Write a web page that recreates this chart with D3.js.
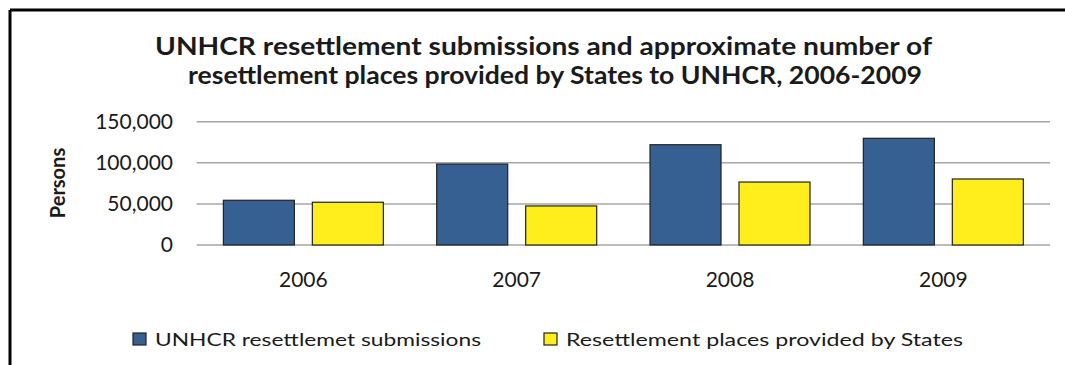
<!DOCTYPE html>
<html>
<head>
<meta charset="utf-8">
<script src="https://cdn.jsdelivr.net/npm/d3@7"></script>
<style>
  html, body { margin: 0; padding: 0; background: #ffffff; }
  svg { display: block; }
  text { font-family: Lato, "Open Sans", sans-serif; fill: #1a1a1a; }
</style>
</head>
<body>
<svg id="chart" width="1065" height="365"></svg>
<script>
// ---- data ----
const categories = ["2006", "2007", "2008", "2009"];
const seriesNames = ["UNHCR resettlemet submissions", "Resettlement places provided by States"];
const submissions = [54400, 98500, 122000, 129800];
const places = [52000, 47500, 76600, 80300];
const yTicks = [0, 50000, 100000, 150000];
const titleLines = [
  "UNHCR resettlement submissions and approximate number of",
  "resettlement places provided by States to UNHCR, 2006-2009"
];
const yAxisTitle = "Persons";
const colors = ["#376092", "#FFED1C"];

const rows = categories.map((c, i) => ({ cat: c, values: [submissions[i], places[i]] }));

const svg = d3.select("#chart");

// frame
svg.append("line").attr("x1", 10).attr("x2", 1065).attr("y1", 10).attr("y2", 10)
  .attr("stroke", "#000").attr("stroke-width", 3);
svg.append("line").attr("x1", 10).attr("x2", 10).attr("y1", 10).attr("y2", 365)
  .attr("stroke", "#000").attr("stroke-width", 3);

// title
const titleX = [155, 188];
const titleW = [777, 734];
const titleY = [55, 84];
titleLines.forEach((t, i) => {
  svg.append("text").attr("x", titleX[i]).attr("y", titleY[i])
    .style("font-weight", "bold").style("font-size", "24px")
    .attr("textLength", titleW[i]).attr("lengthAdjust", "spacingAndGlyphs").text(t);
});

// scales
const x0 = d3.scaleBand().domain(categories).range([196.7, 1050]).paddingInner(0.25).paddingOuter(0.125);
const x1 = d3.scaleBand().domain([0, 1]).range([0, x0.bandwidth()]).paddingInner(0.202).paddingOuter(0);
const y = d3.scaleLinear().domain([0, 150000]).range([245, 121.7]);

// gridlines
svg.append("g").selectAll("line").data(yTicks).join("line")
  .attr("x1", 196.7).attr("x2", 1050)
  .attr("y1", d => y(d)).attr("y2", d => y(d))
  .attr("stroke", "#a6a6a6").attr("stroke-width", 1.5);

// y axis labels
const yAxis = d3.axisLeft(y).tickValues(yTicks).tickSize(0).tickPadding(0)
  .tickFormat(d3.format(","));
const gy = svg.append("g").attr("transform", "translate(173,0)").call(yAxis);
gy.select(".domain").remove();
gy.selectAll("text").style("font-size", "21px").style("font-family", "Lato, sans-serif")
  .attr("fill", "#1a1a1a");

// x axis labels
const xAxis = d3.axisBottom(x0).tickSize(0).tickPadding(0);
const gx = svg.append("g").attr("transform", "translate(0,272)").call(xAxis);
gx.select(".domain").remove();
gx.selectAll("text").style("font-size", "21px").style("font-family", "Lato, sans-serif")
  .attr("fill", "#1a1a1a");

// y axis title
svg.append("text").attr("transform", "translate(65,183) rotate(-90)")
  .attr("text-anchor", "middle").style("font-weight", "bold").style("font-size", "20px")
  .text(yAxisTitle);

// bars
svg.append("g").selectAll("g").data(rows).join("g")
  .attr("transform", d => `translate(${x0(d.cat)},0)`)
  .selectAll("rect").data(d => d.values.map((v, k) => ({ k, v }))).join("rect")
  .attr("x", d => x1(d.k)).attr("width", x1.bandwidth())
  .attr("y", d => y(d.v)).attr("height", d => y(0) - y(d.v))
  .attr("fill", d => colors[d.k]).attr("stroke", "#222").attr("stroke-width", 1.2);

// legend
const legendX = [133, 544];
const legendW = [326, 397];
seriesNames.forEach((name, k) => {
  svg.append("rect").attr("x", legendX[k]).attr("y", 333).attr("width", 13).attr("height", 12)
    .attr("fill", colors[k]).attr("stroke", "#222").attr("stroke-width", 1.2);
  svg.append("text").attr("x", legendX[k] + 22).attr("y", 345.5)
    .style("font-size", "18px").attr("textLength", legendW[k]).attr("lengthAdjust", "spacingAndGlyphs")
    .text(name);
});
</script>
</body>
</html>
